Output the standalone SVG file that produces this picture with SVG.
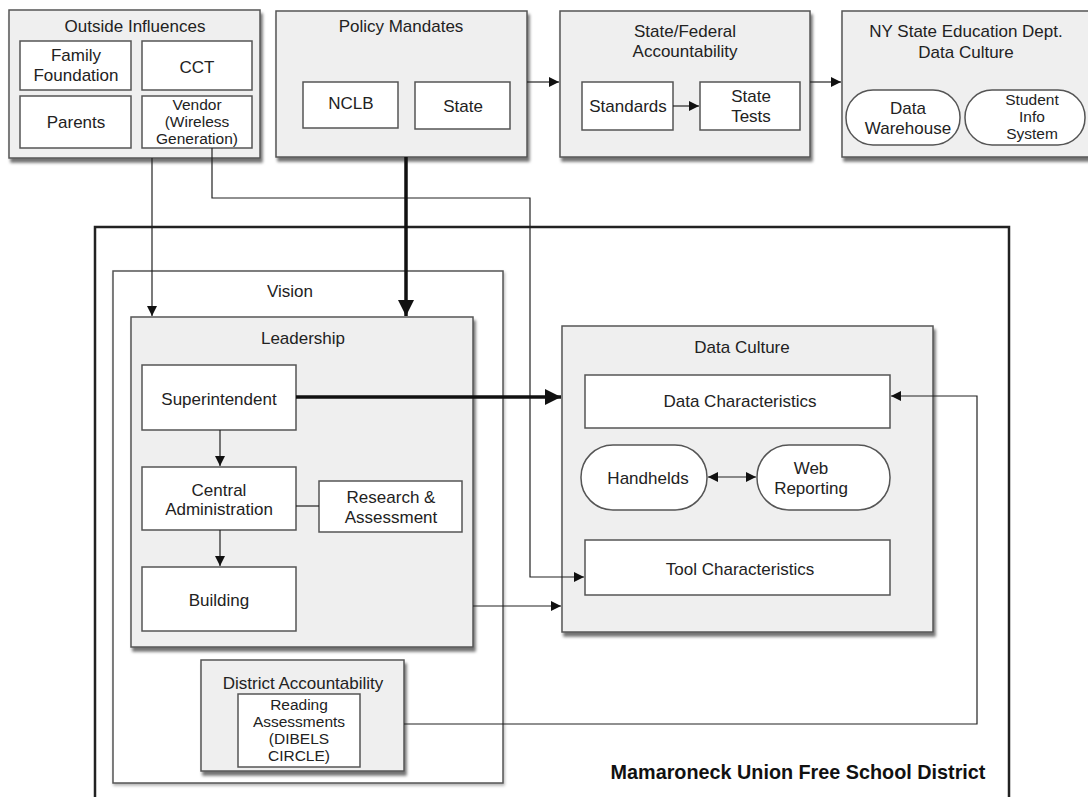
<svg xmlns="http://www.w3.org/2000/svg" width="1088" height="797" viewBox="0 0 1088 797">
<defs>
<style>
text{font-family:"Liberation Sans",Arial,sans-serif;font-size:17px;fill:#222;text-anchor:middle}
.sm{font-size:15.5px}
.cont{fill:#efefef;stroke:#555;stroke-width:1.5}
.box{fill:#fff;stroke:#555;stroke-width:1.5}
.plain{fill:#fff;stroke:#555;stroke-width:1.5}
.ln{fill:none;stroke:#222;stroke-width:1.2}
.thick{fill:none;stroke:#111;stroke-width:3.5}
.title{font-size:19.8px;font-weight:bold;fill:#111}
</style>
<filter id="sh" x="-5%" y="-5%" width="115%" height="115%">
<feDropShadow dx="2" dy="4" stdDeviation="1.5" flood-color="#000" flood-opacity="0.55"/>
</filter>
<filter id="shs" x="-5%" y="-5%" width="115%" height="115%">
<feDropShadow dx="1" dy="2" stdDeviation="1.5" flood-color="#000" flood-opacity="0.3"/>
</filter>
<marker id="ar" viewBox="0 0 10 10" refX="10" refY="5" markerWidth="10" markerHeight="10" markerUnits="userSpaceOnUse" orient="auto">
<path d="M0,0 L10,5 L0,10 z" fill="#111"/>
</marker>
<marker id="ars" viewBox="0 0 10 10" refX="0" refY="5" markerWidth="10" markerHeight="10" markerUnits="userSpaceOnUse" orient="auto">
<path d="M10,0 L0,5 L10,10 z" fill="#111"/>
</marker>
<marker id="arb" viewBox="0 0 10 10" refX="10" refY="5" markerWidth="18" markerHeight="16" markerUnits="userSpaceOnUse" orient="auto">
<path d="M0,0 L10,5 L0,10 z" fill="#111"/>
</marker>
</defs>

<g id="district">
<rect x="95" y="227" width="914" height="580" fill="#fff" stroke="#222" stroke-width="2.5"/>
<text class="title" x="798" y="779">Mamaroneck Union Free School District</text>
</g>

<g id="outside-influences">
<rect class="cont" x="9" y="10" width="251" height="148" filter="url(#sh)"/>
<text x="135" y="32">Outside Influences</text>
<rect class="box" x="20" y="41" width="111" height="49"/>
<text x="76" y="61">Family</text><text x="76" y="81">Foundation</text>
<rect class="box" x="142" y="41" width="110" height="49"/>
<text x="197" y="73">CCT</text>
<rect class="box" x="20" y="96" width="111" height="52"/>
<text x="76" y="128">Parents</text>
<rect class="box" x="142" y="96" width="110" height="52"/>
<text class="sm" x="197" y="110">Vendor</text><text class="sm" x="197" y="127">(Wireless</text><text class="sm" x="197" y="144">Generation)</text>
</g>

<g id="policy-mandates">
<rect class="cont" x="276" y="11" width="251" height="146" filter="url(#sh)"/>
<text x="401" y="32">Policy Mandates</text>
<rect class="box" x="303" y="82" width="95" height="46"/>
<text x="351" y="109">NCLB</text>
<rect class="box" x="415" y="82" width="95" height="47"/>
<text x="463" y="112">State</text>
</g>

<g id="state-federal">
<rect class="cont" x="560" y="11" width="250" height="146" filter="url(#sh)"/>
<text x="685" y="37">State/Federal</text><text x="685" y="57">Accountability</text>
<rect class="box" x="582" y="82" width="91" height="48"/>
<text x="628" y="112">Standards</text>
<rect class="box" x="700" y="82" width="100" height="48"/>
<text x="751" y="102">State</text><text x="751" y="122">Tests</text>
</g>

<g id="nysed">
<rect class="cont" x="842" y="11" width="250" height="146" filter="url(#sh)"/>
<text x="966" y="37">NY State Education Dept.</text><text x="966" y="58">Data Culture</text>
<rect class="box" x="846" y="90" width="114" height="55" rx="27"/>
<text x="908" y="114">Data</text><text x="908" y="134">Warehouse</text>
<rect class="box" x="965" y="90" width="120" height="55" rx="27"/>
<text class="sm" x="1032" y="105">Student</text><text class="sm" x="1032" y="122">Info</text><text class="sm" x="1032" y="139">System</text>
</g>

<g id="vision">
<rect class="plain" x="113" y="271" width="390" height="512" filter="url(#shs)"/>
<text x="290" y="297">Vision</text>
</g>

<g id="leadership">
<rect class="cont" x="131" y="317" width="342" height="330" filter="url(#sh)"/>
<text x="303" y="344">Leadership</text>
</g>
<g id="superintendent">
<rect class="box" x="142" y="365" width="154" height="65"/>
<text x="219" y="405">Superintendent</text>
</g>
<g id="central-admin">
<rect class="box" x="142" y="467" width="154" height="63"/>
<text x="219" y="496">Central</text><text x="219" y="515">Administration</text>
</g>
<g id="research">
<rect class="box" x="319" y="481" width="143" height="51"/>
<text x="391" y="503">Research &amp;</text><text x="391" y="523">Assessment</text>
</g>
<g id="building">
<rect class="box" x="142" y="567" width="154" height="64"/>
<text x="219" y="606">Building</text>
</g>

<g id="district-accountability">
<rect class="cont" x="201" y="660" width="203" height="111" filter="url(#sh)"/>
<text x="303" y="689">District Accountability</text>
<rect class="box" x="238" y="694" width="122" height="73"/>
<text class="sm" x="299" y="710">Reading</text><text class="sm" x="299" y="727">Assessments</text><text class="sm" x="299" y="744">(DIBELS</text><text class="sm" x="299" y="761">CIRCLE)</text>
</g>

<g id="data-culture">
<rect class="cont" x="562" y="326" width="371" height="306" filter="url(#sh)"/>
<text x="742" y="353">Data Culture</text>
<rect class="box" x="585" y="375" width="305" height="53"/>
<text x="740" y="407">Data Characteristics</text>
<rect class="box" x="581" y="445" width="126" height="65" rx="32"/>
<text x="648" y="484">Handhelds</text>
<rect class="box" x="757" y="445" width="133" height="65" rx="32"/>
<text x="811" y="474">Web</text><text x="811" y="494">Reporting</text>
<rect class="box" x="585" y="540" width="305" height="55"/>
<text x="740" y="575">Tool Characteristics</text>
</g>

<g id="connectors">
<line class="ln" x1="527" y1="82" x2="559" y2="82" marker-end="url(#ar)"/>
<line class="ln" x1="810" y1="82" x2="841" y2="82" marker-end="url(#ar)"/>
<line class="ln" x1="673" y1="106" x2="699" y2="106" marker-end="url(#ar)"/>
<line class="ln" x1="152" y1="158" x2="152" y2="316" marker-end="url(#ar)"/>
<polyline class="ln" points="212,148 212,198 530,198 530,577 584,577" marker-end="url(#ar)"/>
<line class="thick" x1="406" y1="157" x2="406" y2="316" marker-end="url(#arb)"/>
<line class="thick" x1="296" y1="397" x2="561" y2="397" marker-end="url(#arb)"/>
<line class="ln" x1="220" y1="430" x2="220" y2="466" marker-end="url(#ar)"/>
<line class="ln" x1="220" y1="530" x2="220" y2="566" marker-end="url(#ar)"/>
<line class="ln" x1="296" y1="506" x2="319" y2="506"/>
<line class="ln" x1="473" y1="606" x2="561" y2="606" marker-end="url(#ar)"/>
<polyline class="ln" points="404,724 977,724 977,396 891,396" marker-end="url(#ar)"/>
<line class="ln" x1="708" y1="477" x2="756" y2="477" marker-start="url(#ars)" marker-end="url(#ar)"/>
</g>
</svg>
